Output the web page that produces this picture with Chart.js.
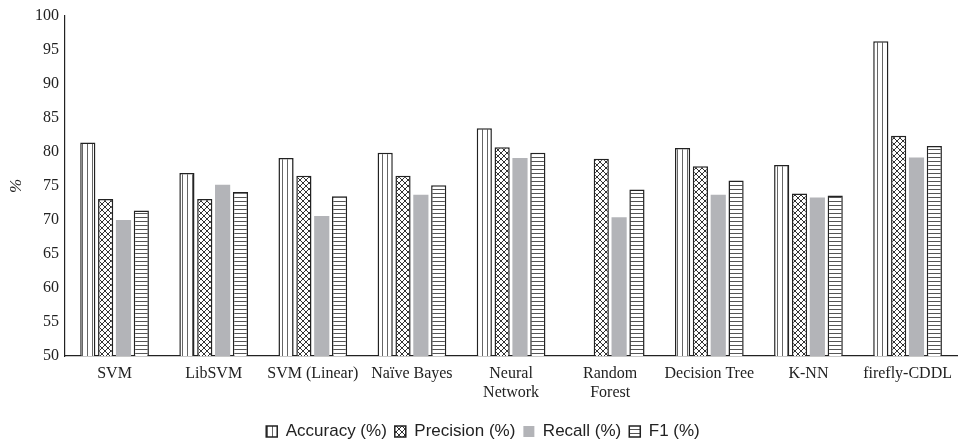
<!DOCTYPE html>
<html>
<head>
<meta charset="utf-8">
<script src="https://cdn.jsdelivr.net/npm/chart.js@4/dist/chart.umd.min.js"></script>
<style>
    html, body { margin: 0; padding: 0; background: #fff; }
    #wrap { width: 960px; height: 443px; position: relative; }
</style>
</head>
<body>
<div id="wrap"><canvas id="chart"></canvas></div>
<script>
const categories = ['SVM', 'LibSVM', 'SVM (Linear)', 'Naïve Bayes', ['Neural', 'Network'], ['Random', 'Forest'], 'Decision Tree', 'K-NN', 'firefly-CDDL'];
const accuracy = [81.4, 76.9, 79.1, 79.9, 83.5, 50.0, 80.6, 78.1, 96.3];
const precision = [73.1, 73.1, 76.5, 76.5, 80.7, 79.0, 77.9, 73.9, 82.4];
const recall = [70.0, 75.2, 70.6, 73.7, 79.1, 70.4, 73.7, 73.3, 79.2];
const f1 = [71.4, 74.1, 73.5, 75.1, 79.9, 74.5, 75.8, 73.6, 80.9];
const yTicks = [50, 55, 60, 65, 70, 75, 80, 85, 90, 95, 100];

function makePattern(kind) {
    const c = document.createElement('canvas');
    const ctx = c.getContext('2d');
    const size = kind === 'cross' ? 6 : (kind === 'vertical' ? 5 : 4);
    c.width = size;
    c.height = size;
    ctx.fillStyle = '#fff';
    ctx.fillRect(0, 0, size, size);
    if (kind === 'vertical') {
        ctx.fillStyle = '#666';
        ctx.fillRect(2, 0, 1, size);
    } else if (kind === 'horizontal') {
        ctx.fillStyle = '#555';
        ctx.fillRect(0, 1, size, 1);
    } else {
        ctx.strokeStyle = '#333';
        ctx.lineWidth = 1;
        ctx.beginPath();
        ctx.moveTo(0, 0); ctx.lineTo(size, size);
        ctx.moveTo(size, 0); ctx.lineTo(0, size);
        ctx.stroke();
    }
    return ctx.createPattern(c, 'repeat');
}

const serif = '"Liberation Serif", "Times New Roman", serif';
const sans = '"Liberation Sans", Arial, sans-serif';

function barSet(label, data, fill, border) {
    return {
        label,
        data,
        backgroundColor: fill,
        borderColor: '#222',
        borderWidth: border ? 1.5 : 0,
        borderSkipped: 'bottom',
        categoryPercentage: 0.72,
        barPercentage: 0.85
    };
}

// legend keeps its own spacing, only its box height is pinned
const legendHeight = {
    id: 'legendHeight',
    afterInit(chart) {
        const legend = chart.legend;
        if (!legend) {
            return;
        }
        const fit = legend.fit;
        legend.fit = function () {
            fit.call(this);
            this.height = 28;
        };
    }
};

new Chart(document.getElementById('chart'), {
    type: 'bar',
    data: {
        labels: categories,
        datasets: [
            barSet('Accuracy (%)', accuracy, makePattern('vertical'), true),
            barSet('Precision (%)', precision, makePattern('cross'), true),
            barSet('Recall (%)', recall, '#b3b4b8', false),
            barSet('F1 (%)', f1, makePattern('horizontal'), true)
        ]
    },
    plugins: [legendHeight],
    options: {
        responsive: true,
        maintainAspectRatio: false,
        animation: false,
        layout: { padding: { top: 16, right: 0, left: 6, bottom: 0 } },
        scales: {
            x: {
                afterFit: function (scale) {
                    scale.height = 59;
                },
                grid: { display: false, drawTicks: false },
                border: { color: '#222', width: 1.2 },
                ticks: {
                    color: '#222',
                    font: { family: serif, size: 16 },
                    maxRotation: 0,
                    autoSkip: false,
                    padding: 8
                }
            },
            y: {
                min: 50,
                max: 100,
                afterBuildTicks: function (scale) {
                    scale.ticks = yTicks.map(v => ({ value: v }));
                },
                afterFit: function (scale) {
                    scale.width = 59;
                },
                grid: { display: false, drawTicks: false },
                border: { color: '#222', width: 1.2 },
                title: {
                    display: true,
                    text: '%',
                    color: '#222',
                    font: { family: serif, size: 17, style: 'italic' },
                    padding: 0
                },
                ticks: {
                    color: '#222',
                    font: { family: serif, size: 16 },
                    padding: 6
                }
            }
        },
        plugins: {
            legend: {
                position: 'bottom',
                labels: {
                    color: '#222',
                    font: { family: sans, size: 17 },
                    boxWidth: 11,
                    boxHeight: 11,
                    padding: 8
                }
            },
            tooltip: { enabled: false }
        }
    }
});
</script>
</body>
</html>
